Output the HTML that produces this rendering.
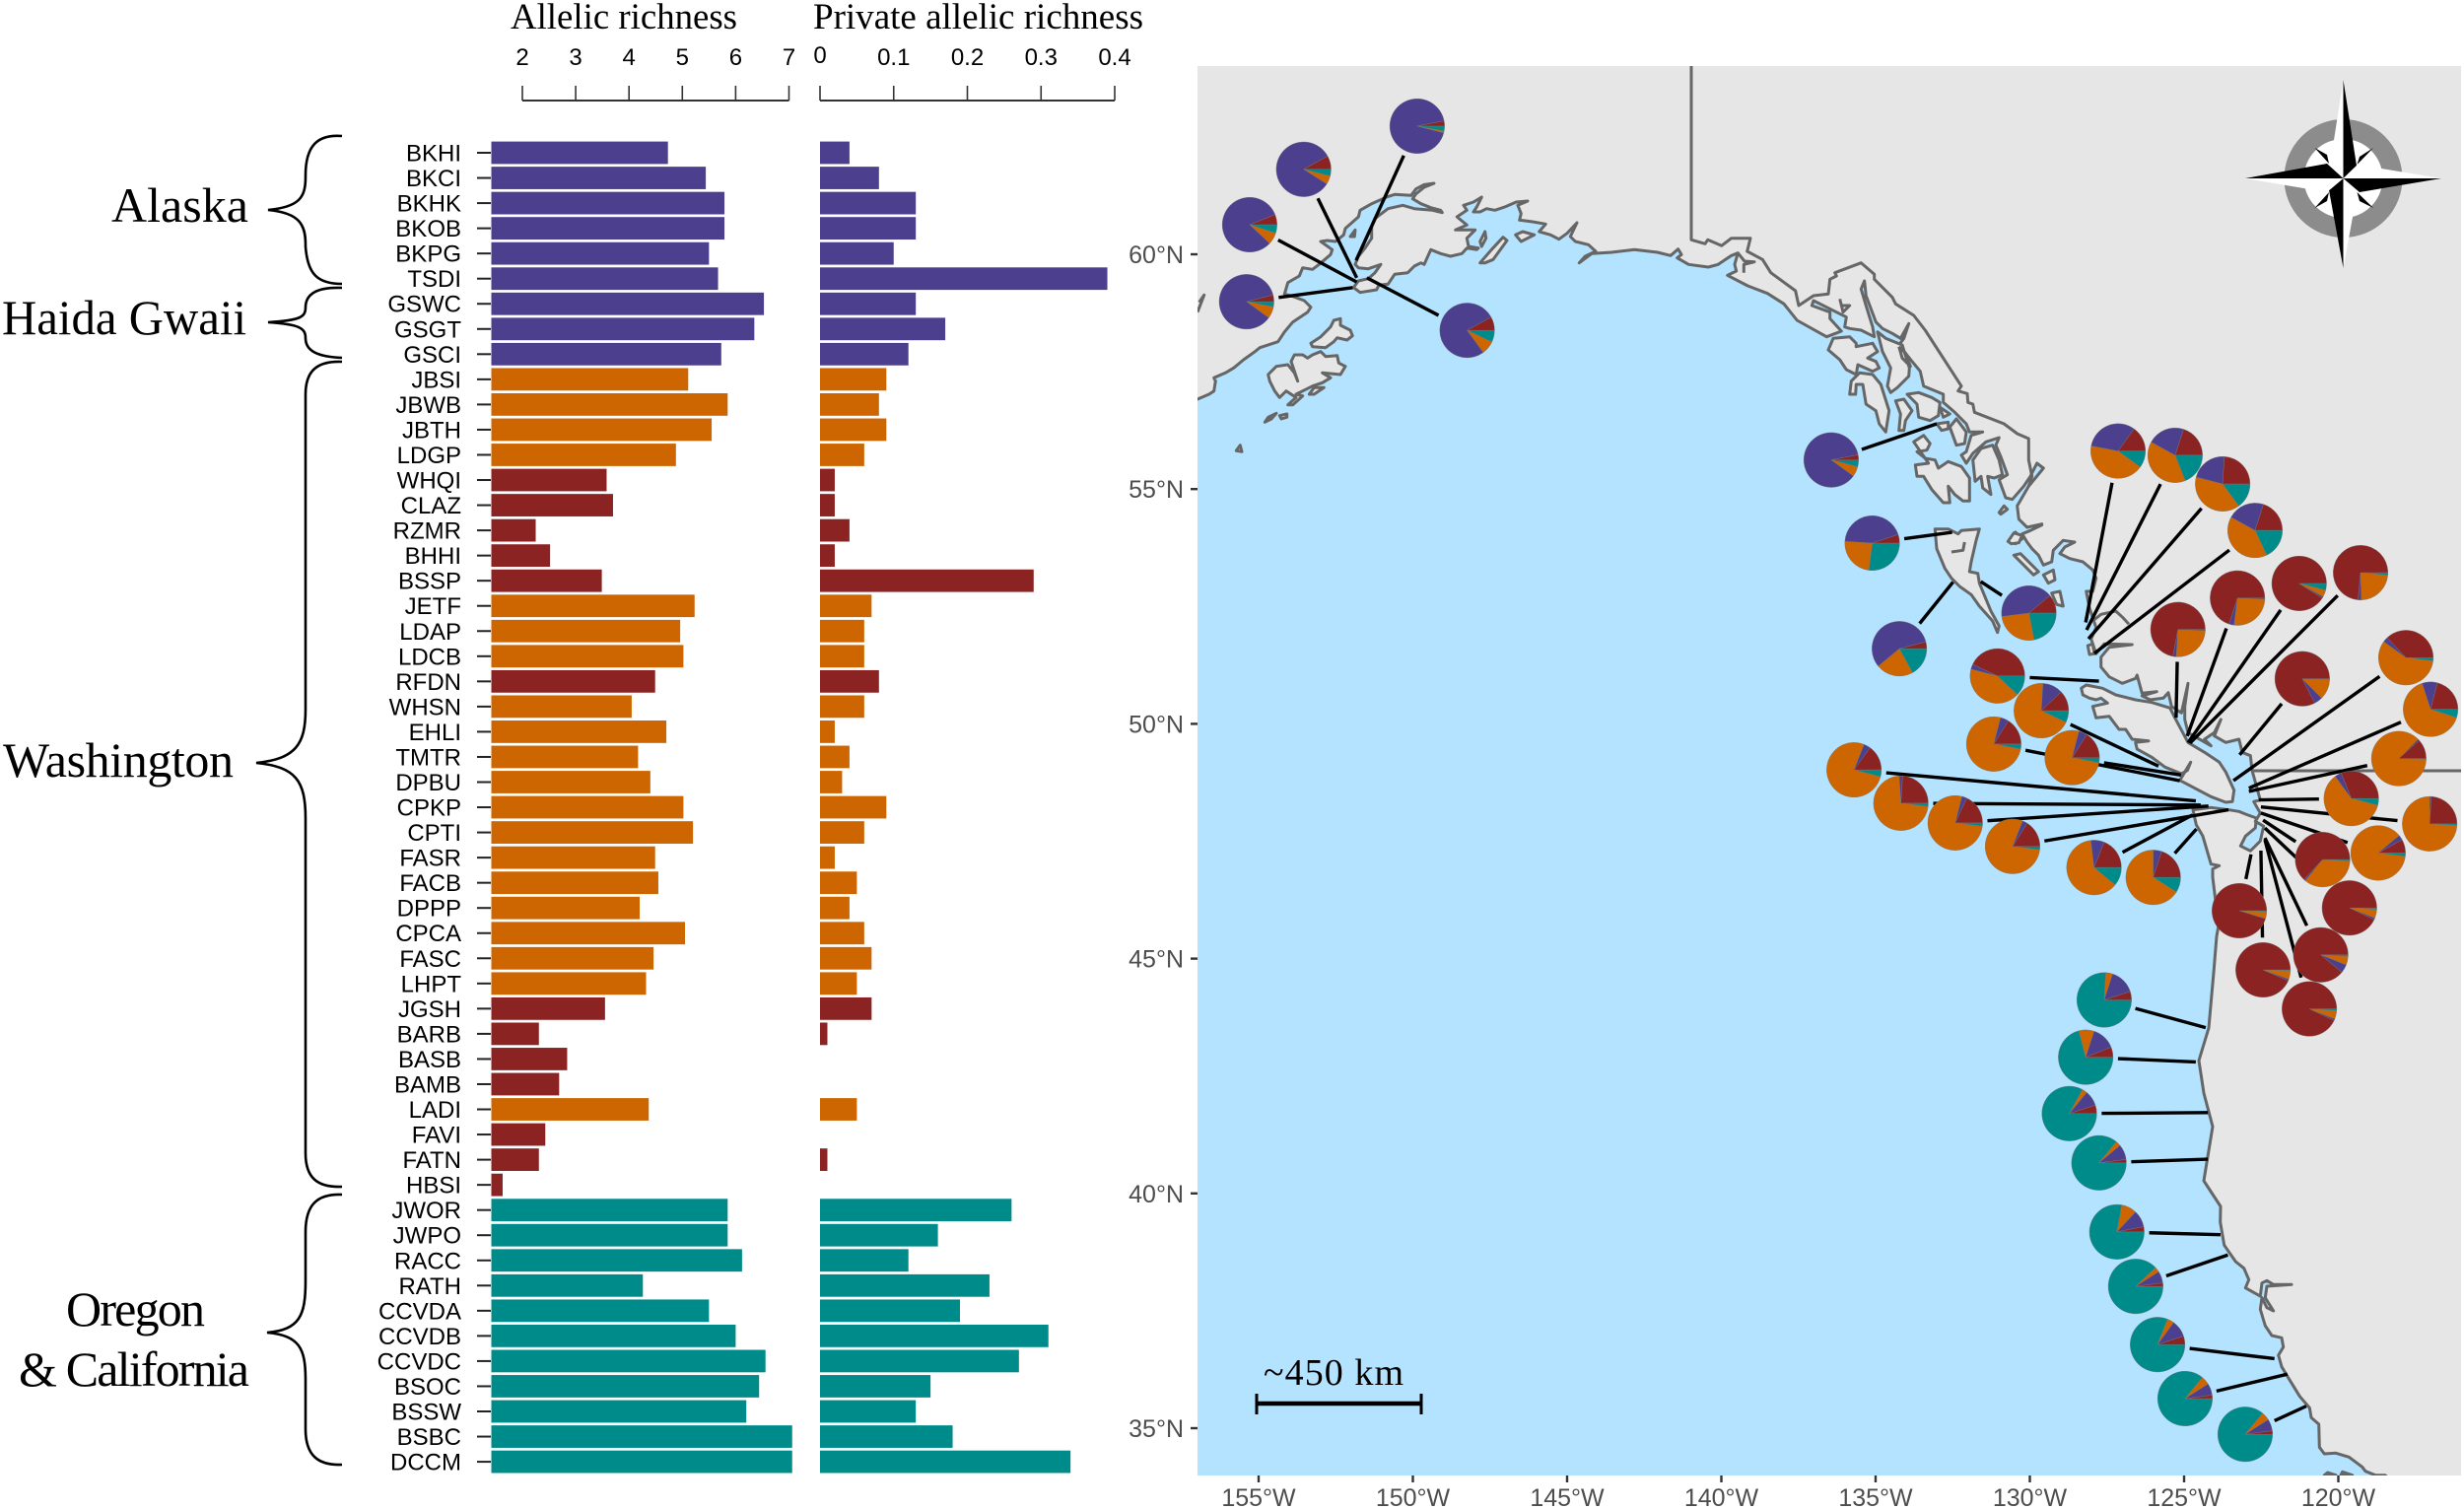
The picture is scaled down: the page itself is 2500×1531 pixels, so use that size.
<!DOCTYPE html>
<html>
<head>
<meta charset="utf-8">
<title>Allelic richness and population map</title>
<style>
html,body{margin:0;padding:0;background:#fff;}
svg{display:block;}
.serif{font-family:"Liberation Serif",serif;fill:#000;}
.sans{font-family:"Liberation Sans",sans-serif;}
</style>
</head>
<body>
<svg id="fig" xmlns="http://www.w3.org/2000/svg" width="2500" height="1531" viewBox="0 0 2500 1531">
  <defs><clipPath id="mapClip"><rect x="1215" y="67" width="1282" height="1430"/></clipPath></defs>
  <rect x="0" y="0" width="2500" height="1531" fill="#fff"/>

  <text class="serif" x="518" y="29" font-size="37" textLength="230" lengthAdjust="spacingAndGlyphs">Allelic richness</text>
  <text class="serif" x="825" y="29" font-size="37" textLength="335" lengthAdjust="spacingAndGlyphs">Private allelic richness</text>

  <g>
    <text class="serif" x="113" y="225" font-size="50" textLength="139" lengthAdjust="spacing">Alaska</text>
    <text class="serif" x="2" y="339" font-size="50" textLength="248" lengthAdjust="spacingAndGlyphs">Haida Gwaii</text>
    <text class="serif" x="3" y="788" font-size="50" textLength="234" lengthAdjust="spacing">Washington</text>
    <text class="serif" x="67" y="1345" font-size="50" textLength="141" lengthAdjust="spacing">Oregon</text>
    <text class="serif" x="19" y="1406" font-size="50" textLength="234" lengthAdjust="spacing">&amp; California</text>
  </g>
  <g fill="none" stroke="#000" stroke-width="2.6">
    <path d="M347,138 C322,136 310,148 310,178 L310,180 C310,200 304,210 272,213 C304,216 310,228 310,248 L310,250 C312,278 322,288 347,288"/>
    <path d="M347,292 C322,291 310,298 310,312 C310,322 304,325 272,327 C304,329 310,333 310,343 C310,356 322,362 347,363"/>
    <path d="M347,367 C322,366 310,376 310,400 L310,720 C310,755 300,770 260,774 C300,778 310,792 310,830 L310,1170 C310,1195 322,1205 347,1204"/>
    <path d="M347,1212 C322,1211 310,1222 310,1250 L310,1300 C310,1335 304,1349 271,1352 C304,1355 310,1368 310,1400 L310,1450 C310,1476 322,1487 347,1486"/>
  </g>

  <g id="barsLayer"></g>

  <g>
    <rect x="1215" y="67" width="1282" height="1430" fill="#b4e3ff"/>
    <g id="coastLayer" clip-path="url(#mapClip)"></g>
    <g id="mapAxes"></g>
    <g id="leaders" clip-path="url(#mapClip)"></g>
    <g id="pies"></g>

    <g>
      <circle cx="2377.5" cy="181" r="50" fill="#fff" stroke="#8c8c8c" stroke-width="20"/>
      <polygon points="2377.5,81 2364,168 2377.5,181" fill="#fff"/>
      <polygon points="2377.5,81 2391,168 2377.5,181" fill="#000"/>
      <polygon points="2377.5,272 2363,193 2377.5,181" fill="#000"/>
      <polygon points="2377.5,272 2392,193 2377.5,181" fill="#fff"/>
      <polygon points="2278,181 2361,166 2377.5,181" fill="#000"/>
      <polygon points="2278,181 2361,195 2377.5,181" fill="#fff"/>
      <polygon points="2477,181 2392,167 2377.5,181" fill="#fff"/>
      <polygon points="2477,181 2394,195 2377.5,181" fill="#000"/>
      <polygon points="2348.5,150 2361,157 2363,166" fill="#000"/>
      <polygon points="2408,150 2394,159 2391.5,167" fill="#000"/>
      <polygon points="2348.5,211 2361,204 2363,195" fill="#000"/>
      <polygon points="2408,211 2394,204 2391.5,195" fill="#000"/>
    </g>

    <g>
      <text class="serif" x="1282" y="1405" font-size="38" textLength="142" lengthAdjust="spacing">~450 km</text>
      <path d="M1275,1424 H1442" stroke="#000" stroke-width="4.5" fill="none"/>
      <path d="M1275,1414 V1435" stroke="#000" stroke-width="3" fill="none"/>
      <path d="M1442,1414 V1435" stroke="#000" stroke-width="3" fill="none"/>
    </g>
  </g>
</svg>
<script>
// ---------- bar chart data ----------
const categories = ["BKHI","BKCI","BKHK","BKOB","BKPG","TSDI","GSWC","GSGT","GSCI","JBSI","JBWB","JBTH","LDGP","WHQI","CLAZ","RZMR","BHHI","BSSP","JETF","LDAP","LDCB","RFDN","WHSN","EHLI","TMTR","DPBU","CPKP","CPTI","FASR","FACB","DPPP","CPCA","FASC","LHPT","JGSH","BARB","BASB","BAMB","LADI","FAVI","FATN","HBSI","JWOR","JWPO","RACC","RATH","CCVDA","CCVDB","CCVDC","BSOC","BSSW","BSBC","DCCM"];
const allelicRichness = [4.73,5.44,5.79,5.79,5.50,5.67,6.53,6.35,5.73,5.11,5.85,5.55,4.88,3.58,3.70,2.25,2.52,3.49,5.23,4.96,5.02,4.49,4.05,4.70,4.17,4.40,5.02,5.20,4.49,4.55,4.20,5.05,4.46,4.32,3.55,2.31,2.84,2.69,4.37,2.43,2.31,1.63,5.85,5.85,6.12,4.26,5.50,6.00,6.56,6.44,6.20,7.06,7.06];
const privateRichness = [0.04,0.08,0.13,0.13,0.10,0.39,0.13,0.17,0.12,0.09,0.08,0.09,0.06,0.02,0.02,0.04,0.02,0.29,0.07,0.06,0.06,0.08,0.06,0.02,0.04,0.03,0.09,0.06,0.02,0.05,0.04,0.06,0.07,0.05,0.07,0.01,0,0,0.05,0,0.01,0,0.26,0.16,0.12,0.23,0.19,0.31,0.27,0.15,0.13,0.18,0.34];
const clusters = ["b","b","b","b","b","b","b","b","b","o","o","o","o","r","r","r","r","r","o","o","o","r","o","o","o","o","o","o","o","o","o","o","o","o","r","r","r","r","o","r","r","r","t","t","t","t","t","t","t","t","t","t","t"];
const allelicTicks = [2,3,4,5,6,7];
const privateTicks = [0,0.1,0.2,0.3,0.4];
const privateTickLabels = ["0","0.1","0.2","0.3","0.4"];

// ---------- map data (degrees) ----------
const lonTicks = [-155,-150,-145,-140,-135,-130,-125,-120];
const latTicks = [60,55,50,45,40,35];
const pieLon = [-149.86,-153.54,-155.29,-155.39,-148.24,-136.44,-135.11,-134.23,-130.03,-127.14,-125.29,-123.75,-122.70,-125.20,-123.27,-121.27,-119.28,-121.17,-131.05,-129.63,-131.17,-128.63,-135.70,-134.18,-132.42,-130.56,-127.92,-126.00,-117.81,-117.01,-118.04,-119.58,-117.04,-120.51,-118.71,-119.64,-123.21,-120.57,-122.44,-120.94,-127.59,-128.19,-128.72,-127.76,-127.18,-126.57,-125.86,-124.97,-123.02];
const pieLat = [62.73,61.81,60.63,58.99,58.38,55.62,53.85,51.60,52.36,55.81,55.72,55.11,54.12,52.01,52.68,52.99,53.22,50.96,51.02,50.28,49.57,49.28,49.02,48.31,47.89,47.39,46.94,46.73,51.41,50.31,49.26,48.41,47.87,47.11,47.25,46.08,46.02,45.08,44.76,43.93,44.12,42.90,41.70,40.65,39.18,38.02,36.78,35.63,34.87];
const siteLon = [-151.84,-151.82,-151.82,-151.95,-151.49,-133.02,-132.52,-132.49,-131.59,-128.19,-128.16,-128.10,-127.91,-125.26,-124.90,-124.87,-124.81,-123.20,-127.76,-125.83,-125.14,-125.10,-124.62,-124.46,-124.21,-123.56,-124.73,-124.60,-123.40,-122.90,-122.90,-122.58,-122.51,-122.44,-122.51,-122.38,-122.83,-122.38,-122.51,-122.38,-124.30,-124.62,-124.23,-124.23,-123.82,-123.58,-122.07,-121.65,-121.04];
const siteLat = [59.87,59.50,59.41,59.29,59.50,56.39,54.08,53.02,53.03,52.16,52.00,51.81,51.50,50.13,49.74,49.60,49.59,49.34,50.91,49.10,48.79,48.91,48.36,48.27,48.25,48.17,48.06,47.76,48.79,48.63,48.56,48.38,48.23,47.95,48.10,47.78,47.22,47.57,47.30,47.53,43.53,42.80,41.72,40.73,39.12,38.69,36.48,36.15,35.47];
const pieTeal = [0.03,0.04,0.05,0.03,0.07,0.04,0.27,0.17,0.22,0.10,0.19,0.15,0.18,0.01,0.01,0.04,0.015,0.005,0.12,0.07,0.03,0.03,0.04,0.02,0.02,0.02,0.11,0.09,0.02,0.05,0.005,0.04,0.01,0.01,0.02,0.01,0.005,0.01,0.005,0.01,0.76,0.71,0.83,0.86,0.78,0.88,0.81,0.86,0.86];
const pieOrange = [0.01,0.05,0.07,0.07,0.08,0.06,0.24,0.22,0.26,0.43,0.39,0.39,0.40,0.25,0.26,0.04,0.23,0.12,0.42,0.69,0.76,0.76,0.77,0.72,0.77,0.79,0.625,0.66,0.58,0.65,0.87,0.61,0.74,0.35,0.87,0.05,0.04,0.05,0.05,0.05,0.04,0.09,0.03,0.03,0.09,0.03,0.04,0.05,0.05];
const piePurple = [0.93,0.83,0.82,0.86,0.77,0.87,0.44,0.57,0.41,0.32,0.22,0.22,0.22,0.02,0.03,0.01,0.02,0.05,0.03,0.12,0.05,0.05,0.04,0.02,0.03,0.03,0.08,0.05,0.03,0.09,0.01,0.04,0.01,0.01,0.03,0.01,0.003,0.05,0.01,0.01,0.15,0.14,0.09,0.09,0.10,0.07,0.10,0.07,0.07];
const pieRed = [0.03,0.08,0.06,0.04,0.08,0.03,0.05,0.04,0.11,0.15,0.20,0.24,0.20,0.72,0.70,0.91,0.735,0.825,0.43,0.12,0.16,0.16,0.15,0.24,0.18,0.16,0.19,0.20,0.37,0.21,0.115,0.31,0.24,0.63,0.08,0.93,0.95,0.89,0.935,0.93,0.05,0.06,0.05,0.02,0.03,0.02,0.05,0.02,0.02];

// ---------- coastline geometry: traced in local tiles (origin x, origin y, scale) ----------
const tileA = [1215,170,1/3], tileB = [1700,200,1/3], tileC = [1950,520,1/3], tileD = [2200,1240,1/3], tileP = [0,0,1];
const coastGulf = "0,705 35,690 50,680 55,650 50,640 85,625 110,610 140,585 175,560 190,548 245,530 265,500 290,470 335,440 345,425 325,405 290,392 265,385 275,350 310,330 320,305 350,310 370,295 405,265 410,250 375,225 395,222 420,225 445,205 450,185 490,150 495,130 530,110 575,90 600,82 650,85 665,65 690,52 720,48 690,60 665,80 655,95 680,110 710,122 740,130 745,137 715,130 660,125 625,115 580,125 540,155 530,180 530,215 510,245 490,270 480,295 490,305 520,308 558,295 540,320 520,338 490,345 475,365 495,380 545,372 552,358 580,355 600,325 640,320 660,300 680,290 690,295 710,250 740,262 770,270 805,262 820,245 850,250 855,245 825,240 820,215 845,190 825,190 785,190 820,175 790,150 820,130 810,115 840,105 865,90 850,120 840,135 860,135 880,125 905,130 935,120 970,105 1005,102 975,115 985,140 980,160 1020,165 1060,172 1040,195 1075,205 1100,218 1125,200 1155,168 1135,210 1150,225 1190,235 1212,255 1180,270 1162,290 1200,262 1260,258 1330,250 1400,258 1440,268";
const coastPanhandle = "8,158 18,175 5,185 40,205 100,213 130,205 170,178 190,170 180,205 185,225 158,238 220,270 280,293 330,325 370,375 460,425 505,408 470,370 470,350 415,330 420,315 460,335 520,365 515,395 530,400 565,405 605,425 600,395 580,330 565,280 575,255 580,300 610,380 630,400 660,415 685,430 710,385 695,430 680,450 720,500 745,530 755,575 815,600 815,625 850,655 885,690 895,715 935,715 900,725 885,775 870,785 885,810 905,780 945,745 985,732 975,755 990,790 1010,845 985,860 1005,915 1025,920 1060,880 1080,850 1100,810 1120,825 1075,880 1040,940 1045,980 1070,1005 1115,995";
const coastBC = "365,38 330,55 305,65 320,90 335,110 355,130 370,160 395,150 400,115 430,85 465,90 435,105 420,125 450,140 490,150 520,175 530,200 520,240 500,240 510,290 530,350 515,385 530,430 555,400 640,402 570,410 545,440 545,470 570,500 610,520 650,505 655,495 670,550 715,545 670,558 695,570 735,565 750,548 760,590 790,610 810,520 800,590 800,630 810,670 880,710 860,690 890,670 910,630 890,680 925,700 965,690 975,730 1000,740 1005,785 1030,875 1010,880 1030,915 1015,940 1040,955 1030,1000 1000,1030 970,1015 985,985 1015,960 1018,930 985,918 965,910 935,905 880,898 825,905 835,950 855,985 880,1070 905,1075 885,1085 885,1110";
const coastOregon = "2251,939 2249,950 2246,987 2241,1043 2231,1076 2236,1109 2245,1143 2236,1198 2253,1224";
const coastCalifornia = "158,0 170,70 205,120 230,140 245,175 235,200 280,225 285,185 300,178 320,190 375,190 300,195 295,230 320,270 300,260 285,230 280,265 295,315 315,345 345,352 350,380 335,405 345,440 360,465 400,530 430,565 435,595 458,615 460,685 475,705 510,703 550,715 590,745 600,758 630,770 660,770 680,790";
const islandsA = ["415,465 435,460 435,480 465,495 472,512 455,525 425,518 415,530 390,548 350,545 345,535 375,515 390,500 405,485",
  "350,570 375,560 390,575 425,572 430,595 450,605 435,630 380,625 405,640 380,655 350,665 320,680 300,690 320,695 290,722 275,722 300,700 270,680 250,700 235,680 220,650 215,630 240,605 275,600 295,625 305,650 285,590 295,570 320,570 335,580",
  "205,775 215,760 240,748 225,765", "250,755 272,750 272,760 255,765", "118,862 130,845 135,865", "340,690 355,670 385,670 355,690",
  "860,225 875,195 878,215 865,240", "860,290 895,250 930,212 942,222 900,280 875,290", "968,205 990,195 1025,205 985,225", "465,210 480,190 478,210"];
const islandsB = ["480,430 530,425 550,445 550,455 600,445 615,470 585,490 610,500 620,520 600,530 555,510 550,540 520,525 500,495 465,465",
  "560,535 600,540 625,570 650,650 640,715 620,690 610,650 580,630 570,570 550,570 548,600 530,600 535,560",
  "615,410 640,430 690,450 712,520 710,545 675,580 655,595 645,575 655,520 630,470",
  "670,620 695,615 720,650 700,680 695,710 680,710 685,660",
  "705,600 740,595 780,610 805,625 800,665 775,680 740,670 735,630",
  "805,640 835,660 815,670", "795,690 830,685 830,705 810,710", "835,700 855,675 885,715 880,750 855,755",
  "725,745 755,725 775,750 765,770 735,775 760,795 790,800 800,825 830,805 870,820 895,855 895,925 875,925 850,905 830,880 835,930 815,930 780,890 755,850 735,850 730,815 770,810",
  "905,800 930,765 965,755 985,800 995,845 970,855 950,850 960,905 935,885 930,850 912,865",
  "985,960 1000,940 1010,950 990,965", "1015,1045 1035,1020 1055,1040 1035,1055"];
const islandsC = ["485,535 500,525 550,535 590,555 650,570 700,578 755,595 770,625 810,700 860,730 905,760 925,790 950,845 945,880 925,882 880,865 785,815 800,790 818,760 808,785 790,795 740,775 700,745 655,720 650,700 690,695 640,690 620,660 600,660 570,620 530,625 520,590 565,580 545,565 530,570 510,565 490,555",
  "40,50 80,50 110,65 120,55 175,50 165,85 150,150 145,180 170,185 175,215 210,300 235,345 230,365 215,330 175,285 150,250 115,225 90,200 70,170 45,110",
  "280,130 300,125 355,180 340,190", "262,88 280,62 305,70 295,92 272,95", "370,190 400,175 405,205 385,215", "395,245 420,240 430,285 410,280", "505,405 520,400 525,430 510,432"];
const islandsD = ["475,770 485,762 510,770", "525,770 530,760 560,770"];
const borderYukon = "48,-420 48,130 90,142 98,130 140,148 170,125 228,125 218,165 265,190 290,230 365,285 375,330 420,300 465,295 470,250 490,240 485,230 565,200 605,235 605,250 660,305 670,325 725,360 760,405 870,575 860,590 888,598 890,625 905,630 910,655 1000,690 1040,720 1075,735 1075,800 1085,850 1075,880";
const inletsB = ["190,170 210,195 240,197 208,205 208,230", "500,310 510,350 530,330 505,330", "680,455 700,475 715,515 690,490 680,455"];
const inletsC = ["520,330 545,310 590,300 612,320 630,340", "90,120 125,115 130,90"];
const inletsA = ["0,440 20,388 5,410"];
const border49 = "2285,782 2510,782";

// ---------- scales & styling ----------
const COLORS = {b:"#4b3f8e", o:"#cd6600", r:"#8b2323", t:"#008b8b"};
const NS = "http://www.w3.org/2000/svg";
const LAND = "#e6e6e6", COAST = "#666666";
function xAllelic(v){ return 530 + (v - 2) * 54.1; }
function xPrivate(v){ return 832 + v * 747.5; }
function yBar(i){ return 155 + i * 25.54; }
function lonX(lon){ return 1277 + (lon + 155) * 31.3; }
function latY(lat){ return 258 + (60 - lat) * 47.64; }
function make(tag, attrs, parent){
  const el = document.createElementNS(NS, tag);
  for (const k in attrs) el.setAttribute(k, attrs[k]);
  parent.appendChild(el);
  return el;
}
function tilePts(str, tile){
  return str.split(" ").map(function(p){
    const c = p.split(",");
    return (tile[0] + c[0] * tile[2]).toFixed(1) + "," + (tile[1] + c[1] * tile[2]).toFixed(1);
  }).join(" ");
}

// ---------- coast ----------
const coastLayer = document.getElementById("coastLayer");
const mainlandPts = [tilePts(coastGulf, tileA), tilePts(coastPanhandle, tileB), tilePts(coastBC, tileC), tilePts(coastOregon, tileP), tilePts(coastCalifornia, tileD), "2510,1510 2510,50 1200,50 1200,405"].join(" ");
const mainland = make("polygon", {points:mainlandPts, fill:LAND, stroke:COAST, "stroke-width":3, "stroke-linejoin":"round"}, coastLayer);


const yukon = make("polyline", {points:tilePts(borderYukon, tileB), fill:"none", stroke:COAST, "stroke-width":3, "stroke-linejoin":"round"}, coastLayer);


const par49 = make("polyline", {points:tilePts(border49, tileP), fill:"none", stroke:COAST, "stroke-width":3}, coastLayer);


[[islandsA, tileA], [islandsB, tileB], [islandsC, tileC], [islandsD, tileD]].forEach(function(set){
  set[0].forEach(function(str){
    const isl = make("polygon", {points:tilePts(str, set[1]), fill:LAND, stroke:COAST, "stroke-width":3, "stroke-linejoin":"round"}, coastLayer);
    
    
  });
});
[[inletsA, tileA], [inletsB, tileB], [inletsC, tileC]].forEach(function(set){
  set[0].forEach(function(str){
    const inl = make("polyline", {points:tilePts(str, set[1]), fill:"none", stroke:COAST, "stroke-width":3, "stroke-linejoin":"round"}, coastLayer);
    
    
  });
});

// ---------- bars ----------
const barsLayer = document.getElementById("barsLayer");
categories.forEach(function(name, i){
  const y = yBar(i);
  const label = make("text", {x:468, y:y + 8.5, "font-size":24, "text-anchor":"end", "font-family":'"Liberation Sans",sans-serif', fill:"#000"}, barsLayer);
  
  
  label.textContent = name;
  const tick = make("line", {x1:484, x2:498, y1:y, y2:y, stroke:"#222", "stroke-width":2}, barsLayer);
  
  
  const a = make("rect", {x:498.5, y:y - 11.4, width:Math.max(0, xAllelic(allelicRichness[i]) - 498.5), height:22.8, fill:COLORS[clusters[i]]}, barsLayer);
  
  
  if (privateRichness[i] > 0) {
    const p = make("rect", {x:xPrivate(0), y:y - 11.4, width:xPrivate(privateRichness[i]) - xPrivate(0), height:22.8, fill:COLORS[clusters[i]]}, barsLayer);
    
    
  }
});

// top axes
const axA = make("line", {x1:xAllelic(2), x2:xAllelic(7), y1:102, y2:102, stroke:"#333", "stroke-width":2}, barsLayer);


allelicTicks.forEach(function(t){
  const m = make("line", {x1:xAllelic(t), x2:xAllelic(t), y1:87, y2:102, stroke:"#333", "stroke-width":1.6}, barsLayer);
  
  
  const l = make("text", {x:xAllelic(t), y:66, "font-size":24, "text-anchor":"middle", "font-family":'"Liberation Sans",sans-serif', fill:"#000"}, barsLayer);
  
  
  l.textContent = String(t);
});
const axP = make("line", {x1:xPrivate(0), x2:xPrivate(0.4), y1:102, y2:102, stroke:"#333", "stroke-width":2}, barsLayer);


privateTicks.forEach(function(t, i){
  const m = make("line", {x1:xPrivate(t), x2:xPrivate(t), y1:87, y2:102, stroke:"#333", "stroke-width":1.6}, barsLayer);
  
  
  const l = make("text", {x:xPrivate(t), y:t === 0 ? 64 : 66, "font-size":24, "text-anchor":"middle", "font-family":'"Liberation Sans",sans-serif', fill:"#000"}, barsLayer);
  
  
  l.textContent = privateTickLabels[i];
});

// ---------- map axes ----------
const mapAxes = document.getElementById("mapAxes");
lonTicks.forEach(function(lon){
  const x = lonX(lon);
  const m = make("line", {x1:x, x2:x, y1:1497, y2:1504, stroke:"#333", "stroke-width":2.4}, mapAxes);
  
  
  const l = make("text", {x:x, y:1528, "font-size":25, "text-anchor":"middle", "font-family":'"Liberation Sans",sans-serif', fill:"#4d4d4d"}, mapAxes);
  
  
  l.textContent = Math.abs(lon) + "\u00B0W";
});
latTicks.forEach(function(lat){
  const y = latY(lat);
  const m = make("line", {x1:1208, x2:1215, y1:y, y2:y, stroke:"#333", "stroke-width":2.4}, mapAxes);
  
  
  const l = make("text", {x:1201, y:y + 9, "font-size":25, "text-anchor":"end", "font-family":'"Liberation Sans",sans-serif', fill:"#4d4d4d"}, mapAxes);
  
  
  l.textContent = lat + "\u00B0N";
});

// ---------- leaders & pies ----------
const R = 27.8;
const leaders = document.getElementById("leaders");
const pies = document.getElementById("pies");
pieLon.forEach(function(lon, i){
  const cx = lonX(lon), cy = latY(pieLat[i]);
  const sx = lonX(siteLon[i]), sy = latY(siteLat[i]);
  const d = Math.hypot(sx - cx, sy - cy);
  const g0 = (R + 5) / d;
  const line = make("line", {x1:cx + (sx - cx) * g0, y1:cy + (sy - cy) * g0, x2:sx, y2:sy, stroke:"#000", "stroke-width":3.4}, leaders);
  
  

  const group = make("g", {}, pies);
  
  
  const parts = [[pieTeal[i], COLORS.t], [pieOrange[i], COLORS.o], [piePurple[i], COLORS.b], [pieRed[i], COLORS.r]];
  const total = parts.reduce(function(s, p){ return s + p[0]; }, 0);
  let ang = 0;
  parts.forEach(function(p){
    const sweep = p[0] / total * Math.PI * 2;
    const a2 = ang + sweep;
    const x1 = cx + R * Math.cos(ang), y1 = cy + R * Math.sin(ang);
    const x2 = cx + R * Math.cos(a2), y2 = cy + R * Math.sin(a2);
    const large = sweep > Math.PI ? 1 : 0;
    const w = make("path", {d:"M" + cx + "," + cy + " L" + x1 + "," + y1 + " A" + R + "," + R + " 0 " + large + " 1 " + x2 + "," + y2 + " Z", fill:p[1], stroke:"#777", "stroke-width":0.4}, group);
    
    
    ang = a2;
  });
});
</script>
</body>
</html>
